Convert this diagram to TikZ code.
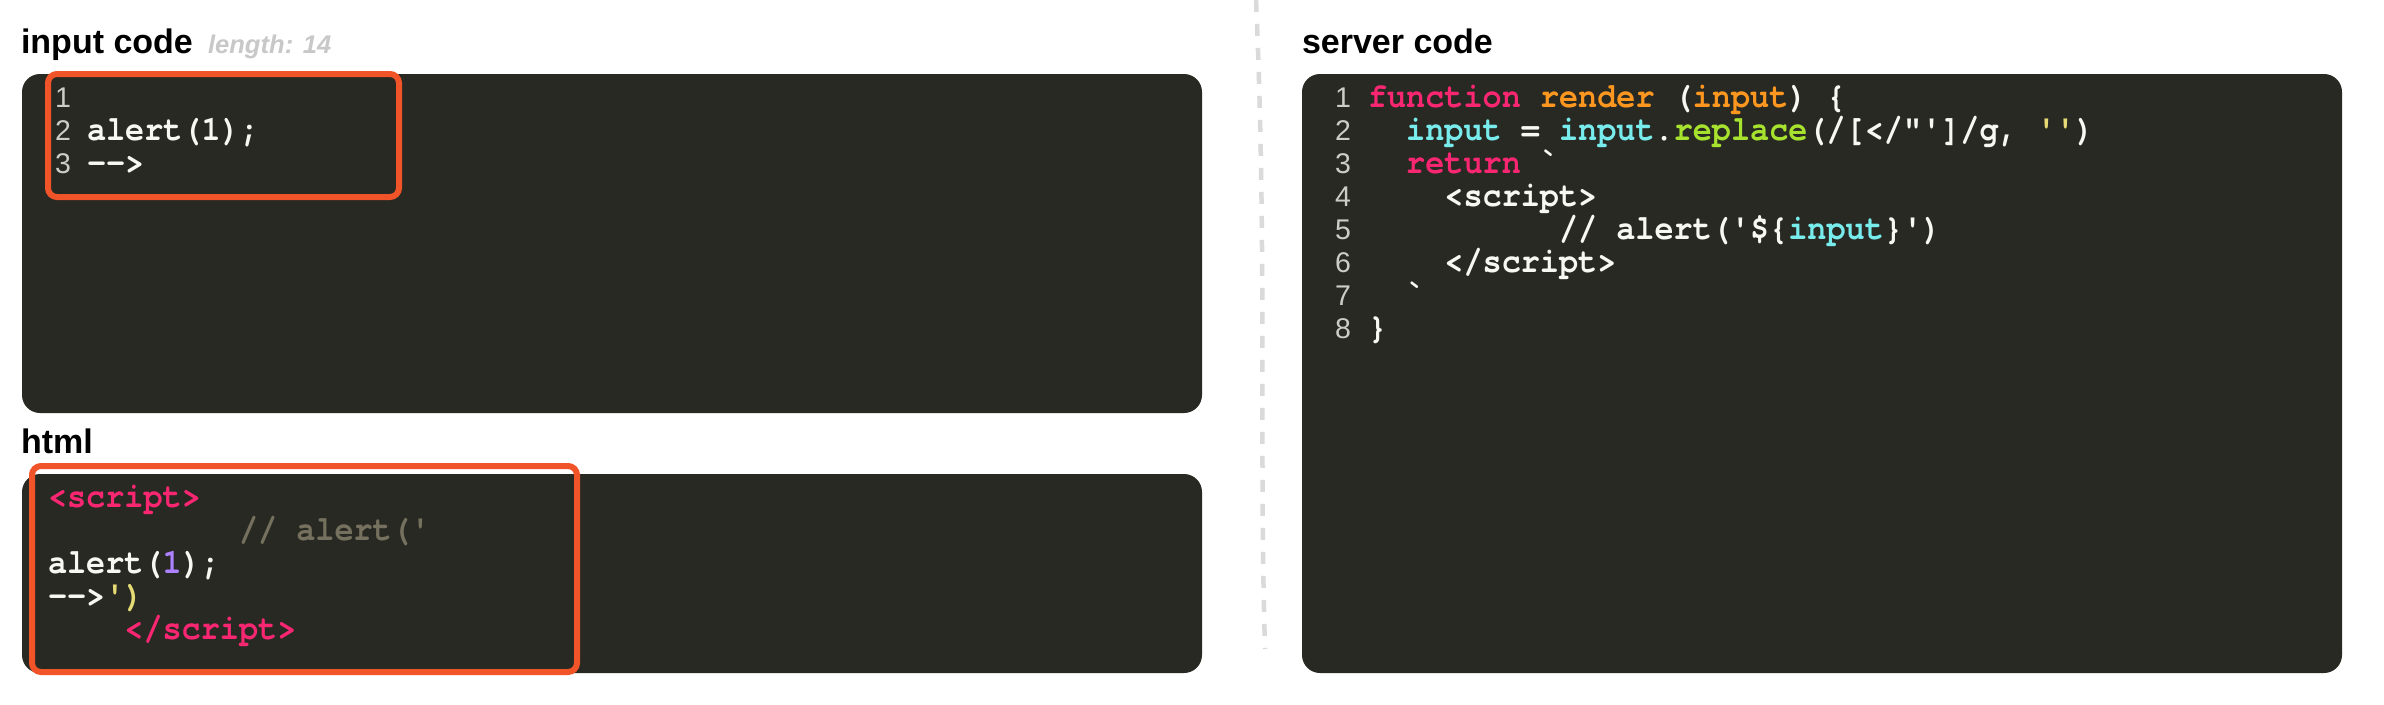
\documentclass[tikz,border=0pt]{standalone}
\usepackage{fontspec}
\setmainfont{Liberation Sans}
\newfontfamily\codefont{texgyrecursor}[Extension=.otf, UprightFont=*-regular, BoldFont=*-bold, Ligatures=TeXOff, FakeStretch=0.91]
\definecolor{panelbg}{RGB}{40,41,35}
\definecolor{hl}{RGB}{240,84,40}
\definecolor{kw}{RGB}{249,38,114}
\definecolor{fn}{RGB}{253,151,31}
\definecolor{var}{RGB}{120,236,236}
\definecolor{grn}{RGB}{166,226,46}
\definecolor{str}{RGB}{230,219,116}
\definecolor{cmt}{RGB}{117,113,94}
\definecolor{num}{RGB}{174,129,255}
\definecolor{txt}{RGB}{248,248,242}
\definecolor{gut}{RGB}{205,205,200}
\definecolor{lenc}{RGB}{200,200,200}
\definecolor{sep}{RGB}{218,218,218}
\tikzset{
  code/.style={anchor=base west, inner sep=0pt, outer sep=0pt, text=txt,
    font=\codefont\bfseries\fontsize{35}{36}\selectfont},
  lnum/.style={anchor=base west, inner sep=0pt, outer sep=0pt, text=gut,
    font=\fontsize{28.5}{30}\selectfont},
  ptitle/.style={anchor=base west, inner sep=0pt, outer sep=0pt, text=black,
    font=\bfseries\fontsize{34}{40}\selectfont},
  lenlabel/.style={anchor=base west, inner sep=0pt, outer sep=0pt, text=lenc,
    font=\bfseries\itshape\fontsize{25.6}{30}\selectfont},
  panel/.style={fill=panelbg, rounded corners=18pt},
  hilite/.style={draw=hl, line width=6pt, rounded corners=9pt},
  sepline/.style={draw=sep, line width=4.5pt, dash pattern=on 12pt off 12pt},
}
\newcommand\adv{19.1}
\begin{document}
\begin{tikzpicture}[x=1pt,y=-1pt]
\useasboundingbox (0,0) rectangle (2384,704);
\fill[white] (0,0) rectangle (2384,704);

% separator
\draw[sepline] (1256,0) .. controls (1267,250) and (1259,450) .. (1265,649);

% panels
\path[panel] (22,74) rectangle (1202,413);
\path[panel] (22,474) rectangle (1202,673);
\path[panel] (1302,74) rectangle (2342,673);

% titles
\node[ptitle] (t1) at (21,53) {input code};
\node[lenlabel] (t1b) at (208,53) {length: 14};
\node[ptitle] (t2) at (21,453) {html};
\node[ptitle] (t3) at (1302,53) {server code};

% input code
\node[lnum] (i1n) at (55,107) {1};
\node[lnum] (i2n) at (55,140) {2};
\node[lnum] (i3n) at (55,173) {3};
\node[code] (i2) at (87,140) {alert(1);};
\node[code] (i3) at (87,173) {-->};

% html
\node[code] (h1) at (48,507) {\color{kw}<script>};
\node[code] (h2) at ({48+10*\adv},540) {\color{cmt}// alert('};
\node[code] (h3) at (48,573) {alert({\color{num}1});};
\node[code] (h4) at (48,606) {-->{\color{str}')}};
\node[code] (h5) at ({48+4*\adv},639) {\color{kw}</script>};

% server code
\foreach \n in {1,...,8} {
  \node[lnum] (s\n n) at (1335,{107+33*(\n-1)}) {\n};
}
\node[code] (s1) at (1368,107) {{\color{kw}function} {\color{fn}render} ({\color{fn}input}) \{};
\node[code] (s2) at ({1368+2*\adv},140) {{\color{var}input} = {\color{var}input}.{\color{grn}replace}(/[</"']/g, {\color{str}''})};
\node[code] (s3) at ({1368+2*\adv},173) {{\color{kw}return} `};
\node[code] (s4) at ({1368+4*\adv},206) {<script>};
\node[code] (s5) at ({1368+10*\adv},239) {// alert('\$\{{\color{var}input}\}')};
\node[code] (s6) at ({1368+4*\adv},272) {</script>};
\node[code] (s7) at ({1368+2*\adv},305) {`};
\node[code] (s8) at (1368,338) {\}};

% highlight boxes
\draw[hilite] (48,74) rectangle (399,197);
\draw[hilite] (32,466) rectangle (577,672);
\end{tikzpicture}
\end{document}
